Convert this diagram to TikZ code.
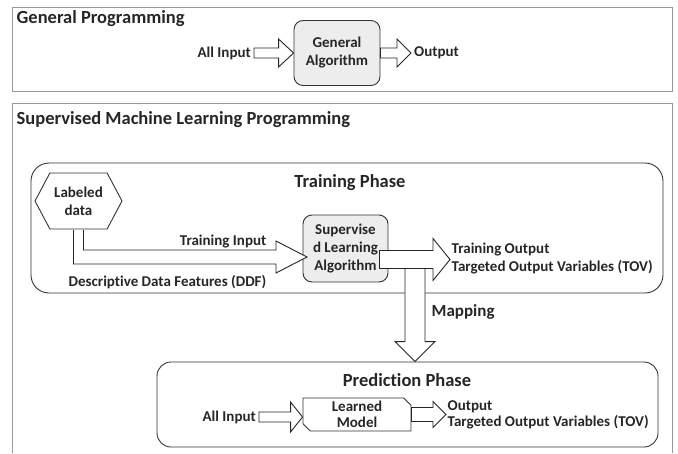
\documentclass[tikz,border=0pt]{standalone}
\usepackage{fontspec}
\setmainfont{Carlito}[Ligatures={NoCommon}]
\usetikzlibrary{calc,positioning,shapes.misc,shapes.symbols}
\tikzset{%
        x = 1pt,
        y = -1pt,
        line join = round,
        inner sep = 1.5pt,
        every node/.append style = {font=\bfseries\fontsize{15}{18}\selectfont, text=black!85}
}
\tikzstyle{frame}=[
    draw = black!40,
    line width = 0.9pt
]
\tikzstyle{title}=[
    font = \bfseries\fontsize{18.5}{20}\selectfont
]
\tikzstyle{algobox}=[
    draw = black!80,
    fill = black!7,
    line width = 0.9pt,
    rounded corners = 9pt,
    align = center,
    minimum width = 86pt,
    minimum height = 65pt
]
\tikzstyle{phasebox}=[
    draw = black!80,
    line width = 0.9pt,
    rounded corners = 18pt
]
\tikzstyle{datahex}=[
    signal,
    signal to = east and west,
    signal pointer angle = 124,
    draw = black!80,
    fill = white,
    line width = 0.9pt,
    align = center,
    minimum width = 87pt,
    minimum height = 56pt
]
\tikzstyle{modelbox}=[
    chamfered rectangle,
    chamfered rectangle corners = {north east, south west},
    chamfered rectangle xsep = 4pt,
    draw = black!80,
    fill = white,
    line width = 0.9pt,
    align = center,
    inner sep = 0pt,
    minimum width = 108pt,
    minimum height = 31pt,
    font = \bfseries\fontsize{15}{16}\selectfont
]
\tikzstyle{blockarrow}=[
    draw = black!85,
    fill = white,
    line width = 0.9pt
]

% hollow block arrows: from, to, shaft half width, head half width, head length
\newcommand{\blockright}[5]{%
    \draw[blockarrow] let \p1 = (#1), \p2 = (#2) in
        (\x1,\y1+#3) -- (\x2-#5,\y1+#3) -- (\x2-#5,\y1+#4) -- (\x2,\y1)
        -- (\x2-#5,\y1-#4) -- (\x2-#5,\y1-#3) -- (\x1,\y1-#3) -- cycle;
}
\newcommand{\blockdown}[5]{%
    \draw[blockarrow] let \p1 = (#1), \p2 = (#2) in
        (\x1-#3,\y1) -- (\x1-#3,\y2+#5) -- (\x1-#4,\y2+#5) -- (\x1,\y2)
        -- (\x1+#4,\y2+#5) -- (\x1+#3,\y2+#5) -- (\x1+#3,\y1) -- cycle;
}

\begin{document}
\begin{tikzpicture}
    \useasboundingbox (0,0) rectangle (678,453);
    \draw[frame] (12,7) rectangle (672,91);
    \draw[frame] (12,453) |- (672,103) -- (672,453);

    % general programming
    \node[title, anchor=west] (gentitle) at (15,19) {General Programming};
    \node[algobox] (genalg) at (337,53) {General\\Algorithm};
    \node[anchor=east, inner sep=3pt] (genin) at (254,53) {All Input};
    \node[anchor=west, inner sep=3pt] (genout) at (411,53) {Output};
    \blockright{genin.east}{genalg.west}{5pt}{14pt}{15pt}
    \blockright{genalg.east}{genout.west}{5pt}{14pt}{14pt}

    % supervised learning
    \node[title, anchor=west] (mltitle) at (15,120) {Supervised Machine Learning Programming};
    \node[phasebox, minimum width=632pt, minimum height=130pt] (train) at (347,228) {};
    \node[title] (trainttl) at (350,183) {Training Phase};
    \node[algobox, minimum width=85pt, minimum height=67pt] (suplearn) at (345.5,248.5) {Supervise\\d Learning\\Algorithm};
    \node[datahex] (data) at (78.5,201) {Labeled\\data};
    \coordinate (tin) at (307,257);
    \draw[blockarrow] let \p1 = (data.south), \p2 = (tin) in
        (\x1-5pt,\y1-0.5pt) |- (\x2-31pt,\y2-7pt) -- (\x2-31pt,\y2-16pt) -- (\p2)
        -- (\x2-31pt,\y2+16pt) -- (\x2-31pt,\y2+7pt) -| (\x1+5pt,\y1-0.5pt);
    \node[anchor=east] (trainin) at (268,242) {Training Input};
    \node[anchor=east] (ddf) at (268,282) {Descriptive Data Features (DDF)};
    \node[anchor=west, align=left] (tovtrain) at (450,259) {Training Output\\Targeted Output Variables (TOV)};

    \coordinate (mapstart) at (415,262);
    \node[phasebox, rounded corners=14pt, minimum width=501pt, minimum height=85pt] (predict) at (407.5,404.5) {};
    \blockdown{mapstart}{predict.north}{10pt}{20pt}{20pt}
    \blockright{$(suplearn.east)+(-9,11)$}{tovtrain.west}{9pt}{21pt}{17pt}
    \node[anchor=west, font=\bfseries\fontsize{17}{18}\selectfont] (maplbl) at (430,312) {Mapping};

    % prediction
    \node[title] (predttl) at (407,380) {Prediction Phase};
    \node[modelbox] (model) at (357,414.5) {Learned\\Model};
    \node[anchor=east, inner sep=3pt] (predin) at (259,417) {All Input};
    \node[anchor=west, align=left, font=\bfseries\fontsize{15}{15.5}\selectfont] (tovpred) at (446,415) {Output\\Targeted Output Variables (TOV)};
    \blockright{predin.east}{model.west}{5pt}{15pt}{12pt}
    \blockright{model.east}{tovpred.west}{7pt}{13pt}{13pt}
\end{tikzpicture}
\end{document}
